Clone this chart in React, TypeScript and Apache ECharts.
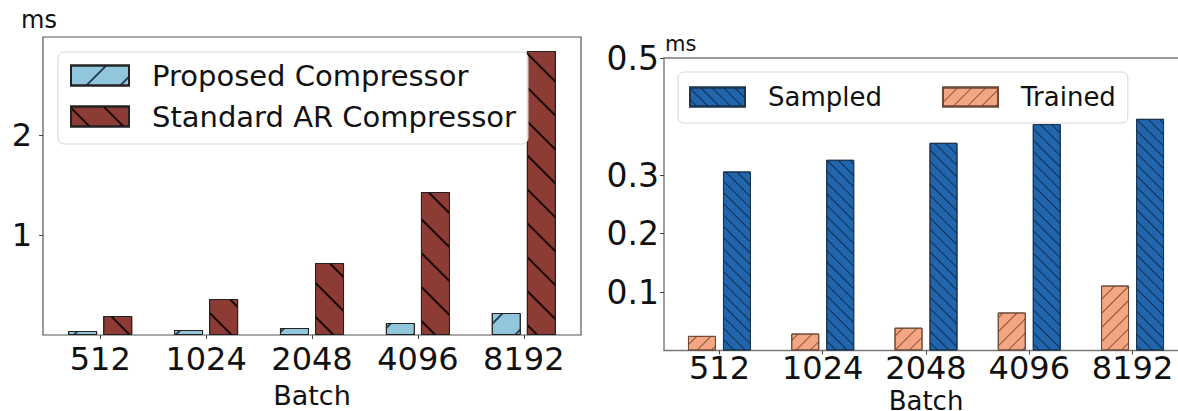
import React, { useEffect, useRef } from 'react';
import * as echarts from 'echarts';

const batches = ['512', '1024', '2048', '4096', '8192'];
const proposed = [0.04, 0.05, 0.07, 0.12, 0.22];
const standardAR = [0.19, 0.36, 0.72, 1.43, 2.84];
const trained = [0.025, 0.029, 0.039, 0.065, 0.111];
const sampled = [0.306, 0.326, 0.355, 0.387, 0.396];
const leftYTicks = [1, 2];
const rightYTicks = [0.1, 0.2, 0.3, 0.5];
const catIdx = [0, 1, 2, 3, 4];

const FONT = 'DejaVu Sans';

const hatch = (dir: number, gap: number, color: string, w = 1.4) => ({
  symbol: 'rect',
  symbolSize: 1,
  dashArrayX: [1, 0],
  dashArrayY: [w, gap],
  rotation: (dir * Math.PI) / 4,
  color,
});

export default function App() {
  const ref = useRef<HTMLDivElement>(null);
  useEffect(() => {
    document.body.style.margin = '0';
    const chart = echarts.init(ref.current!, null, { renderer: 'svg' });
    const xAxisBase = (gi: number, min: number, max: number, gap: number, margin: number, nfs: number) => ({
      type: 'value',
      gridIndex: gi,
      min,
      max,
      name: 'Batch',
      nameLocation: 'middle',
      nameGap: gap,
      nameTextStyle: { fontFamily: FONT, fontSize: nfs, color: '#111' },
      axisLine: { show: false, onZero: false },
      splitLine: { show: false },
      axisTick: { show: true, length: 4, customValues: catIdx, lineStyle: { color: '#444' } },
      axisLabel: {
        customValues: catIdx,
        formatter: (v: number) => batches[Math.round(v)],
        fontFamily: FONT,
        fontSize: 32,
        color: '#111',
        margin,
      },
    });
    const yAxisBase = (gi: number, max: number, ticks: number[], margin: number, fs: number) => ({
      type: 'value',
      gridIndex: gi,
      min: 0,
      max,
      axisLine: { show: false, onZero: false },
      splitLine: { show: false },
      axisTick: { show: true, length: 4, customValues: ticks, lineStyle: { color: '#444' } },
      axisLabel: { customValues: ticks, fontFamily: FONT, fontSize: fs, color: '#111', margin },
    });
    const option: any = {
      animation: false,
      backgroundColor: '#fff',
      grid: [
        { left: 43, top: 37, width: 538, height: 298, show: true, borderColor: '#555', borderWidth: 1.2, backgroundColor: 'transparent', outerBoundsMode: 'none', containLabel: false },
        { left: 664, top: 58, width: 524, height: 292.5, show: true, borderColor: '#777', borderWidth: 1.4, backgroundColor: 'transparent', outerBoundsMode: 'none', containLabel: false },
      ],
      xAxis: [xAxisBase(0, -0.54, 4.54, 47, 8, 27), xAxisBase(1, -0.537, 4.537, 32, 1, 26)],
      yAxis: [yAxisBase(0, 2.98, leftYTicks, 11, 32), yAxisBase(1, 0.5, rightYTicks, 5, 33)],
      legend: [
        {
          left: 58,
          top: 52,
          orient: 'vertical',
          icon: 'rect',
          itemWidth: 58,
          itemHeight: 20,
          itemGap: 12,
          padding: [9, 12, 13, 12],
          selectedMode: false,
          borderColor: '#d6d6d6',
          borderWidth: 1,
          borderRadius: 6,
          backgroundColor: 'rgba(255,255,255,0.85)',
          textStyle: { fontFamily: FONT, fontSize: 29, color: '#111', padding: [0, 0, 0, 18] },
          data: ['Proposed Compressor', 'Standard AR Compressor'],
        },
        {
          left: 678,
          top: 72,
          orient: 'horizontal',
          icon: 'rect',
          itemWidth: 55,
          itemHeight: 19,
          itemGap: 60,
          padding: [12, 12, 13, 11],
          selectedMode: false,
          borderColor: '#d6d6d6',
          borderWidth: 1,
          borderRadius: 6,
          backgroundColor: 'rgba(255,255,255,0.85)',
          textStyle: { fontFamily: FONT, fontSize: 26, color: '#111', padding: [0, 0, 0, 18] },
          data: ['Sampled', 'Trained'],
        },
      ],
      graphic: [
        { type: 'text', left: 21, top: 8, style: { text: 'ms', font: `24px "${FONT}"`, fill: '#111' } },
        { type: 'text', left: 665, top: 33, style: { text: 'ms', font: `21px "${FONT}"`, fill: '#111' } },
      ],
      series: [
        {
          name: 'Proposed Compressor',
          type: 'bar',
          xAxisIndex: 0,
          yAxisIndex: 0,
          barWidth: 29,
          barGap: '21%',
          data: proposed.map((v, i) => [i, v]),
          itemStyle: { color: '#92C6DC', borderColor: '#222', borderWidth: 1, decal: hatch(-1, 22, 'rgba(20,40,60,0.85)') },
        },
        {
          name: 'Standard AR Compressor',
          type: 'bar',
          xAxisIndex: 0,
          yAxisIndex: 0,
          barWidth: 29,
          barGap: '21%',
          data: standardAR.map((v, i) => [i, v]),
          itemStyle: { color: '#8C3C34', borderColor: '#222', borderWidth: 1, decal: hatch(1, 22, 'rgba(10,0,0,0.9)') },
        },
        {
          name: 'Trained',
          type: 'bar',
          xAxisIndex: 1,
          yAxisIndex: 1,
          barWidth: 28,
          barGap: '25%',
          data: trained.map((v, i) => [i, v]),
          itemStyle: { color: '#F4A582', borderColor: '#6b4a3a', borderWidth: 1, decal: hatch(-1, 9, 'rgba(90,50,30,0.7)', 1) },
        },
        {
          name: 'Sampled',
          type: 'bar',
          xAxisIndex: 1,
          yAxisIndex: 1,
          barWidth: 28,
          barGap: '25%',
          data: sampled.map((v, i) => [i, v]),
          itemStyle: { color: '#2166AC', borderColor: '#1a3550', borderWidth: 1, decal: hatch(1, 7, 'rgba(10,30,60,0.8)', 1) },
        },
      ],
    };
    chart.setOption(option);
    return () => chart.dispose();
  }, []);
  return <div ref={ref} style={{ width: 1178, height: 411 }} />;
}
